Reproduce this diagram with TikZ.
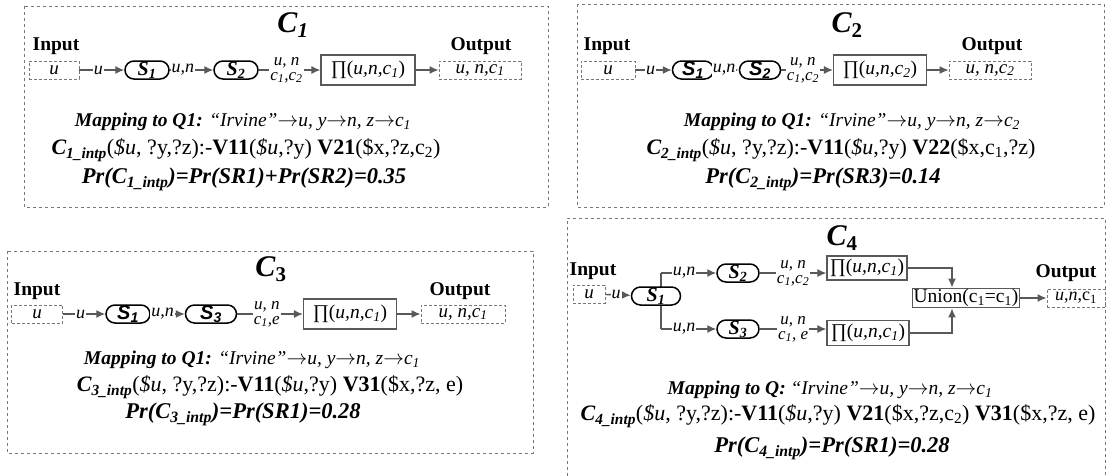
\documentclass[tikz,border=0pt]{standalone}
\usepackage{fontspec}
\setmainfont{Liberation Serif}
\setsansfont{Liberation Sans}
\usetikzlibrary{calc, positioning, arrows.meta}
\definecolor{lineG}{RGB}{89,89,89}
\definecolor{frameG}{RGB}{120,120,120}
\newcommand{\Pij}[1]{∏(\textit{u,n,c}\textsubscript{\textit{#1}})}

\begin{document}
\begin{tikzpicture}[x=1pt, y=-1pt,
  panel/.style={draw=frameG, dashed, line width=0.8pt},
  io/.style={draw=frameG, densely dashed, line width=0.9pt, minimum height=18pt, inner sep=1pt, font=\fontsize{19}{19}\selectfont\itshape},
  svc/.style={draw=black, fill=white, line width=1.5pt, rounded corners=9pt, minimum height=18pt, minimum width=44pt, inner sep=0pt, font=\fontsize{20}{20}\selectfont\bfseries\itshape},
  proj/.style={draw=lineG, line width=1.1pt, minimum height=30pt, inner sep=2pt, font=\fontsize{19.5}{19.5}\selectfont},
  lbl/.style={font=\fontsize{19.5}{19.5}\selectfont\bfseries},
  ttl/.style={font=\fontsize{30}{30}\selectfont\bfseries\itshape},
  txt/.style={font=\fontsize{19.5}{19.5}\selectfont},
  rule/.style={font=\fontsize{22}{22}\selectfont},
  prob/.style={font=\fontsize{22.5}{22.5}\selectfont\bfseries\itshape},
  flow/.style={-{Latex[length=9pt,width=8pt]}, draw=lineG, line width=1.4pt},
  link/.style={draw=lineG, line width=1.4pt},
  edge/.style={fill=white, inner sep=1pt, font=\fontsize{18}{18}\selectfont\itshape},
  pair/.style={edge, align=center, font=\fontsize{17}{15}\selectfont\itshape}
]
  \useasboundingbox (0,0) rectangle (1109,475);

  % Panel C1
  \draw[panel] (24,6) rectangle (548,207);
  \node[ttl] (t1) at (293,25) {C\textsubscript{1}};
  \node[lbl] (inl1) at (56,46) {Input};
  \node[io, minimum width=50pt] (in1) at (54,70) {u};
  \node[svc] (s11) at (147,70) {S\textsubscript{1}};
  \node[svc] (s12) at (236,70) {S\textsubscript{2}};
  \node[proj, minimum width=94pt] (pi1) at (368,70) {\Pij{1}};
  \node[io, minimum width=82pt] (out1) at (480,70) {u, n,c\textsubscript{1}};
  \node[lbl] (outl1) at (481,46) {Output};
  \draw[flow] (in1) -- node[edge, pos=0.42] {u} (s11);
  \draw[flow] (s11) -- node[edge, pos=0.3] {u,n} (s12);
  \draw[flow] (s12) -- node[pair, pos=0.45] {u, n\\c\textsubscript{1},c\textsubscript{2}} (pi1);
  \draw[flow] (pi1) -- (out1);
  \node[txt] (m1) at (243,122) {\textbf{\textit{Mapping to Q1:}} \textit{“Irvine”$\rightarrow$u, y$\rightarrow$n, z$\rightarrow$c\textsubscript{1}}};
  \node[rule] (f1) at (246,150) {\textbf{\textit{C\textsubscript{1\_intp}}}(\textit{\$u}, ?y,?z):-\textbf{V11}(\textit{\$u},?y) \textbf{V21}(\$x,?z,c\textsubscript{2})};
  \node[prob] (p1) at (244,179) {Pr(C\textsubscript{1\_intp})=Pr(SR1)+Pr(SR2)=0.35};

  % Panel C2
  \draw[panel] (577,4) rectangle (1104,207);
  \node[ttl] (t2) at (847,25) {C\textsubscript{\textup{2}}};
  \node[lbl] (inl2) at (607,46) {Input};
  \node[io, minimum width=54pt] (in2) at (608,70) {u};
  \node[svc, minimum width=41pt] (s21) at (693,70) {\sffamily S\textsubscript{1}};
  \node[svc, minimum width=41pt] (s22) at (760,70) {\sffamily S\textsubscript{2}};
  \node[proj, minimum width=93pt] (pi2) at (880,70) {\Pij{2}};
  \node[io, minimum width=82pt] (out2) at (990,70) {u, n,c\textsubscript{2}};
  \node[lbl] (outl2) at (992,46) {Output};
  \draw[flow] (in2) -- node[edge, pos=0.42] {u} (s21);
  \draw[flow] (s21) -- node[edge, pos=0.4] {u,n} (s22);
  \draw[flow] (s22) -- node[pair, pos=0.42] {u, n\\c\textsubscript{1},c\textsubscript{2}} (pi2);
  \draw[flow] (pi2) -- (out2);
  \node[txt] (m2) at (852,122) {\textbf{\textit{Mapping to Q1:}} \textit{“Irvine”$\rightarrow$u, y$\rightarrow$n, z$\rightarrow$c\textsubscript{2}}};
  \node[rule] (f2) at (841,150) {\textbf{\textit{C\textsubscript{2\_intp}}}(\textit{\$u}, ?y,?z):-\textbf{V11}(\textit{\$u},?y) \textbf{V22}(\$x,c\textsubscript{1},?z)};
  \node[prob] (p2) at (823,179) {Pr(C\textsubscript{2\_intp})=Pr(SR3)=0.14};

  % Panel C3
  \draw[panel] (7,251) rectangle (533,453);
  \node[ttl] (t3) at (271,269) {C\textsubscript{\textup{3}}};
  \node[lbl] (inl3) at (37,291) {Input};
  \node[io, minimum width=51pt] (in3) at (37,314) {u};
  \node[svc] (s31) at (128,314) {\sffamily S\textsubscript{1}};
  \node[svc, minimum width=51pt] (s33) at (211,314) {\sffamily S\textsubscript{3}};
  \node[proj, minimum width=93pt] (pi3) at (350,314) {\Pij{1}};
  \node[io, minimum width=84pt] (out3) at (463,314) {u, n,c\textsubscript{1}};
  \node[lbl] (outl3) at (460,291) {Output};
  \draw[flow] (in3) -- node[edge, pos=0.42] {u} (s31);
  \draw[flow] (s31) -- node[edge, pos=0.35] {u,n} (s33);
  \draw[flow] (s33) -- node[pair, pos=0.45] {u, n\\c\textsubscript{1},e} (pi3);
  \draw[flow] (pi3) -- (out3);
  \node[txt] (m3) at (252,360) {\textbf{\textit{Mapping to Q1:}} \textit{“Irvine”$\rightarrow$u, y$\rightarrow$n, z$\rightarrow$c\textsubscript{1}}};
  \node[rule] (f3) at (270,387) {\textbf{\textit{C\textsubscript{3\_intp}}}(\textit{\$u}, ?y,?z):-\textbf{V11}(\textit{\$u},?y) \textbf{V31}(\$x,?z, e)};
  \node[prob] (p3) at (243,414) {Pr(C\textsubscript{3\_intp})=Pr(SR1)=0.28};

  % Panel C4
  \draw[panel] (567,476) -- (567,218) -- (1105,218) -- (1105,476);
  \node[ttl] (t4) at (842,238) {C\textsubscript{\textup{4}}};
  \node[lbl] (inl4) at (593,271) {Input};
  \node[io, minimum width=32pt] (in4) at (589,294) {u};
  \coordinate (up4) at (661,273);
  \coordinate (dn4) at (661,329);
  \draw[link] (up4) -- (dn4);
  \node[svc, minimum width=49pt] (s41) at (656,296) {S\textsubscript{1}};
  \node[svc, minimum width=42pt] (s42) at (738,273) {S\textsubscript{2}};
  \node[svc, minimum width=42pt] (s43) at (738,329) {S\textsubscript{3}};
  \node[proj, minimum width=80pt, minimum height=24pt, inner sep=1pt] (pi41) at (867,268) {\Pij{1}};
  \node[proj, minimum width=82pt, minimum height=25pt, inner sep=1pt] (pi42) at (868,333) {\Pij{1}};
  \node[proj, minimum width=103pt, minimum height=19pt, inner sep=1pt] (un4) at (966,298) {Union(c\textsubscript{1}=c\textsubscript{1})};
  \node[io, minimum width=58pt, font=\fontsize{18}{18}\selectfont] (out4) at (1076,298) {\textit{u},\textit{n},c\textsubscript{1}};
  \node[lbl] (outl4) at (1066,273) {Output};
  \draw[flow] (in4) -- node[edge, pos=0.42] {u} (s41);
  \draw[flow] (up4) -- node[edge, pos=0.42] {u,n} (s42);
  \draw[flow] (dn4) -- node[edge, pos=0.42] {u,n} (s43);
  \draw[flow] (s42.east) -- node[pair, pos=0.5] {u, n\\c\textsubscript{1},c\textsubscript{2}} (s42.east -| pi41.west);
  \draw[flow] (s43.east) -- node[pair, pos=0.5] {u, n\\c\textsubscript{1}, e} (s43.east -| pi42.west);
  \draw[flow] (pi41.east) -| (un4.north -| 952,0);
  \draw[flow] (pi42.east) -| (un4.south -| 952,0);
  \draw[flow] (un4) -- (out4);
  \node[txt] (m4) at (830,390) {\textbf{\textit{Mapping to Q:}} \textit{“Irvine”$\rightarrow$u, y$\rightarrow$n, z$\rightarrow$c\textsubscript{1}}};
  \node[rule] (f4) at (838,416) {\textbf{\textit{C\textsubscript{4\_intp}}}(\textit{\$u}, ?y,?z):-\textbf{V11}(\textit{\$u},?y) \textbf{V21}(\$x,?z,c\textsubscript{2}) \textbf{V31}(\$x,?z, e)};
  \node[prob] (p4) at (832,448) {Pr(C\textsubscript{4\_intp})=Pr(SR1)=0.28};
\end{tikzpicture}
\end{document}
